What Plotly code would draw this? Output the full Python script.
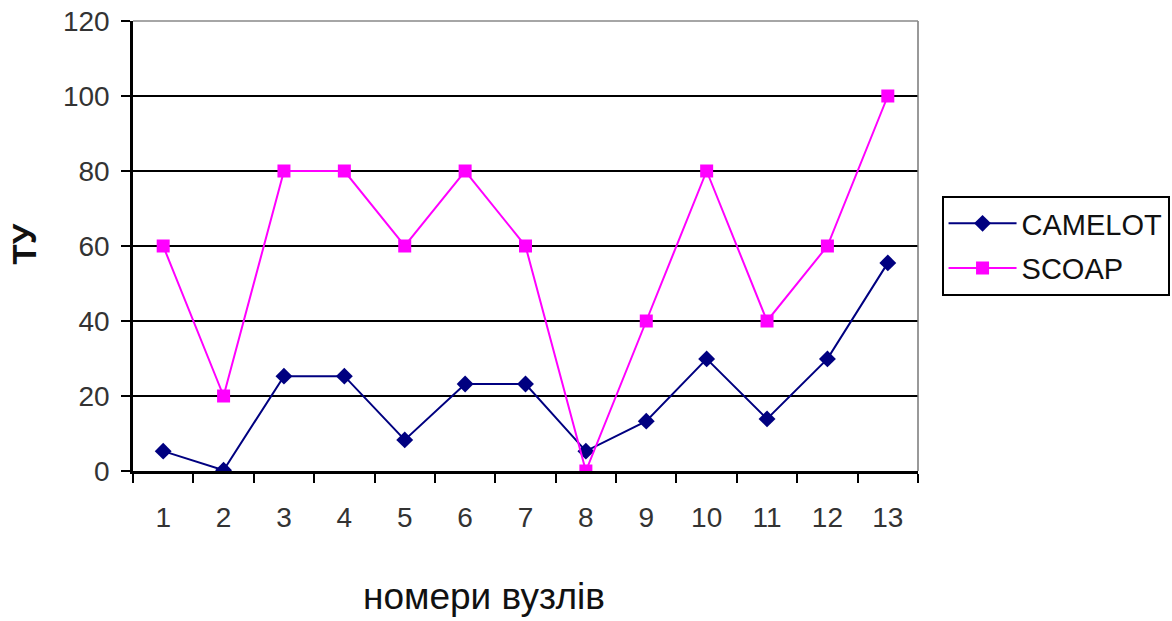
import plotly.graph_objects as go

nodes = [str(i) for i in range(1, 14)]
camelot = [5.3, 0.2, 25.3, 25.3, 8.3, 23.2, 23.2, 5.3, 13.3, 29.9, 13.9, 29.9, 55.5]
scoap = [60, 20, 80, 80, 60, 80, 60, 0, 40, 80, 40, 60, 100]
y_ticks = [0, 20, 40, 60, 80, 100, 120]

font_family = "Liberation Sans, Arial, sans-serif"

fig = go.Figure()
fig.add_trace(go.Scatter(
    x=nodes, y=camelot, name="CAMELOT", mode="lines+markers",
    legendgroup="a",
    line=dict(color="#000080", width=2),
    marker=dict(symbol="diamond", size=13, color="#000080"),
))
fig.add_trace(go.Scatter(
    x=nodes, y=scoap, name="SCOAP", mode="lines+markers",
    legendgroup="b",
    line=dict(color="#FF00FF", width=2),
    marker=dict(symbol="square", size=13, color="#FF00FF"),
))

fig.update_layout(
    width=1172, height=621,
    margin=dict(l=133, r=254, t=21, b=150, autoexpand=False),
    paper_bgcolor="white", plot_bgcolor="white",
    font=dict(family=font_family, color="#222222"),
    legend=dict(
        x=1.03, y=0.5, xanchor="left", yanchor="middle",
        bordercolor="black", borderwidth=2,
        font=dict(size=29, color="#111111"),
        itemwidth=68, tracegroupgap=4,
    ),
)

fig.update_xaxes(
    type="category", range=[-0.5, 12.5], autorange=False,
    tickson="boundaries", ticks="outside", ticklen=9,
    tickwidth=2, tickcolor="black",
    showline=True, linecolor="black", linewidth=2.5,
    mirror=False, showgrid=False, automargin=False,
    tickfont=dict(size=28, color="#333333"),
    ticklabelstandoff=20,
)
fig.update_yaxes(
    range=[0, 120], tickvals=y_ticks, ticks="outside", ticklen=9,
    tickwidth=2, tickcolor="black",
    showline=True, linecolor="black", linewidth=2.5,
    showgrid=True, gridcolor="black", gridwidth=2,
    zeroline=False, automargin=False,
    tickfont=dict(size=28, color="#333333"),
    ticklabelstandoff=6,
)

# axis titles
fig.add_annotation(
    text="номери вузлів", xref="paper", yref="paper",
    x=0.447, y=-0.278, xanchor="center", yanchor="middle",
    showarrow=False, font=dict(size=37, color="#111111"),
)
fig.add_annotation(
    text="<b>ТУ</b>", xref="paper", yref="paper",
    x=-0.138, y=0.505, xanchor="center", yanchor="middle", textangle=-90,
    showarrow=False, font=dict(size=33, color="#111111"),
)

# light right and top borders of the plot area
fig.add_shape(type="line", xref="paper", yref="paper", x0=1, x1=1, y0=0, y1=1,
              line=dict(color="#777777", width=1.5))
fig.add_shape(type="line", xref="paper", yref="paper", x0=0, x1=1, y0=1, y1=1,
              line=dict(color="#888888", width=1.5))

fig.write_html("out.html")
